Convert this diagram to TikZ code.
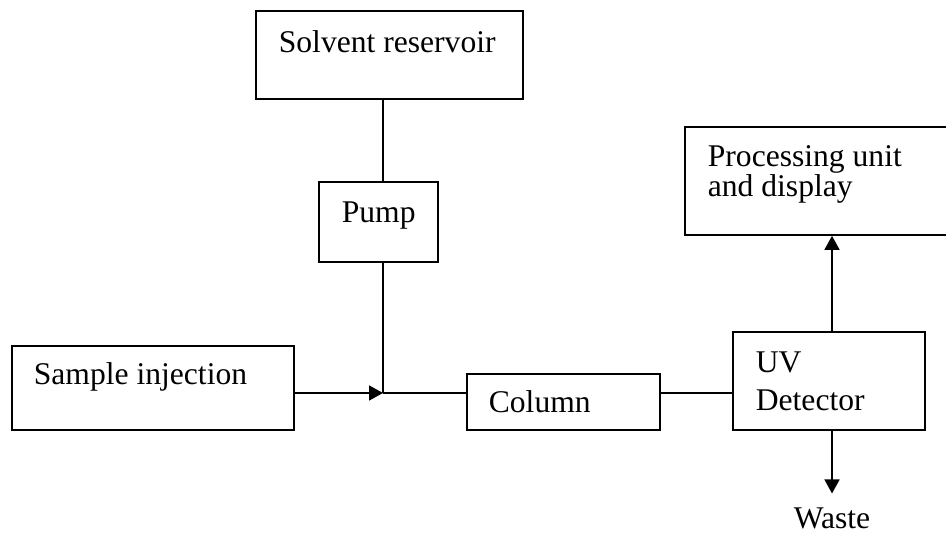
\documentclass[tikz,border=0pt]{standalone}
\usepackage{fontspec}
\setmainfont{Liberation Serif}
\usetikzlibrary{arrows.meta}

\begin{document}
\begin{tikzpicture}
  [x=0.5pt,y=-0.5pt,line width=0.85pt,
    box/.style={draw,inner sep=0pt},
    lbl/.style={font=\fontsize{15.8}{19}\selectfont,inner sep=0pt,anchor=base west,align=left},
    arr/.style={-{Triangle[length=7pt,width=7.5pt]}}]

  \useasboundingbox (0,0) rectangle (946,533);

  % boxes
  \node[box,minimum width=133.5pt,minimum height=44pt] (res) at (389.5,55) {};
  \node[box,minimum width=59.5pt,minimum height=40pt] (pump) at (378.5,222) {};
  \node[box,minimum width=141pt,minimum height=42pt] (samp) at (153,388) {};
  \node[box,minimum width=96.5pt,minimum height=28pt] (col) at (563.5,402) {};
  \node[box,minimum width=96pt,minimum height=49pt] (uv) at (829,381) {};
  \node[box,minimum width=131.5pt,minimum height=54pt] (proc) at (816.5,181) {};

  % texts (base = last line)
  \node[lbl] (reslbl) at (278,53) {Solvent reservoir};
  \node[lbl] (pumplbl) at (341,223) {Pump};
  \node[lbl] (samplbl) at (33,385) {Sample injection};
  \node[lbl] (collbl) at (488,413) {Column};
  \node[lbl] (uvlbl) at (755,410) {UV\\Detector};
  \node[lbl] (proclbl) at (707,197) {Processing unit\\[-4pt]and display};
  \node[lbl,anchor=base] (waste) at (832,528) {Waste};

  % flow
  \coordinate (jn) at (383,393);
  \coordinate (tap) at (832,393);
  \draw (res.south -| jn) -- (pump.north -| jn);
  \draw (pump.south -| jn) -- (jn);
  \draw[arr] (samp.east |- jn) -- (jn);
  \draw (jn) -- (col.west |- jn);
  \draw (col.east |- jn) -- (uv.west |- jn);
  \draw[arr] (uv.north -| tap) -- (proc.south -| tap);
  \draw[arr,shorten >=6.5pt] (uv.south -| tap) -- (waste.north);

\end{tikzpicture}
\end{document}
